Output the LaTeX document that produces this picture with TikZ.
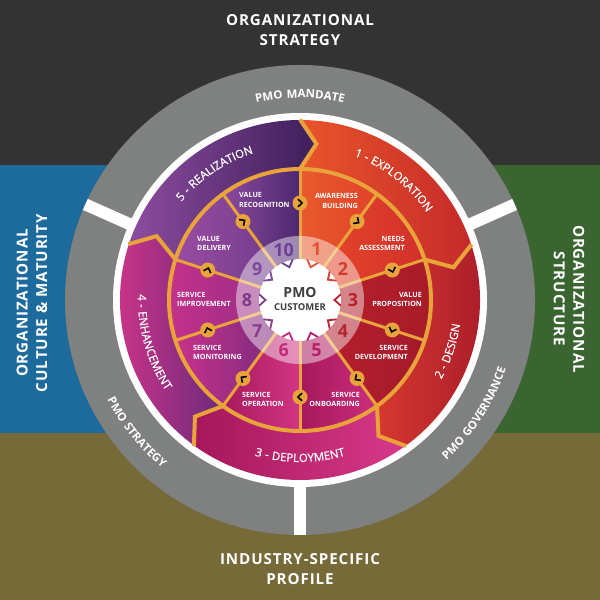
\documentclass[tikz,border=0pt]{standalone}
\usepackage{fontspec}
\setmainfont{Open Sans}
\newfontfamily\titlefam[LetterSpace=6]{Open Sans}
\newfontfamily\phasefam[LetterSpace=5,FakeBold=0.6]{Open Sans}
\newfontfamily\grayfam[LetterSpace=8]{Open Sans}
\usetikzlibrary{decorations.text}
\definecolor{gold}{HTML}{E8A33A}
\definecolor{topbg}{HTML}{333333}
\definecolor{bluebg}{HTML}{1D6A9C}
\definecolor{greenbg}{HTML}{3A6531}
\definecolor{olivebg}{HTML}{756A38}
\definecolor{ringgray}{HTML}{7F8080}
\definecolor{darktext}{HTML}{3D3D3D}
% phases
\definecolor{p1l}{HTML}{E9552A}\definecolor{p1r}{HTML}{C42A2A}
\definecolor{p2l}{HTML}{D6382F}\definecolor{p2r}{HTML}{A61B2A}
\definecolor{p3l}{HTML}{A5175A}\definecolor{p3r}{HTML}{D8398A}
\definecolor{p4l}{HTML}{D5358A}\definecolor{p4r}{HTML}{6C2A7B}
\definecolor{p5l}{HTML}{8D4C9F}\definecolor{p5r}{HTML}{3D1E5A}
% inner segments
\definecolor{s1l}{HTML}{E85A2C}\definecolor{s1r}{HTML}{E2422A}
\definecolor{s2l}{HTML}{E4462A}\definecolor{s2r}{HTML}{D2302B}
\definecolor{s3l}{HTML}{B41F2B}\definecolor{s3r}{HTML}{A81B29}
\definecolor{s4l}{HTML}{B51F2D}\definecolor{s4r}{HTML}{A41A2B}
\definecolor{s5l}{HTML}{A6185A}\definecolor{s5r}{HTML}{CB2E7D}
\definecolor{s6l}{HTML}{A81A5C}\definecolor{s6r}{HTML}{D23584}
\definecolor{s7l}{HTML}{C8318A}\definecolor{s7r}{HTML}{7B2B7E}
\definecolor{s8l}{HTML}{C5318A}\definecolor{s8r}{HTML}{9A2E86}
\definecolor{s9l}{HTML}{9A4CA1}\definecolor{s9r}{HTML}{713C8D}
\definecolor{s10l}{HTML}{8B4A9E}\definecolor{s10r}{HTML}{4D2870}
% numbers
\definecolor{n1}{HTML}{E0542F}\definecolor{n2}{HTML}{D03C2E}
\definecolor{n3}{HTML}{B8222D}\definecolor{n4}{HTML}{B2252F}
\definecolor{n5}{HTML}{B8206A}\definecolor{n6}{HTML}{C42A7A}
\definecolor{n7}{HTML}{8A3A8C}\definecolor{n8}{HTML}{7C3A8E}
\definecolor{n9}{HTML}{7C4899}\definecolor{n10}{HTML}{6E3F98}
\newcommand\phasefont{\phasefam\fontsize{11.5}{13}\selectfont}
\newcommand\grayfont{\grayfam\bfseries\fontsize{11.5}{13}\selectfont}
\newcommand\arctext[5]{\path[decorate, decoration={text along path, text align=center, text color=white, text={|#4|#5}}] (#2:#1) arc[start angle=#2, end angle=#3, radius=#1];}
\begin{document}
\begin{tikzpicture}[x=1bp,y=1bp,
  dotnode/.style={circle, fill=gold, minimum size=15bp, inner sep=0pt},
  smalllabel/.style={font=\bfseries\fontsize{7.2}{9.3}\selectfont, text=white, inner sep=0pt},
  titlelabel/.style={font=\titlefam\bfseries\fontsize{15.2}{19.5}\selectfont, text=white, align=center, inner sep=0pt},
  numlabel/.style={font=\bfseries\fontsize{18}{18}\selectfont, inner sep=0pt},
  goldbound/.style={draw=gold, line width=4bp, line join=miter},
  goldspoke/.style={draw=gold, line width=3bp}]
\useasboundingbox (0,0) rectangle (600,600);
% backgrounds
\fill[topbg] (0,435) rectangle (600,600);
\fill[bluebg] (0,167) rectangle (300,435);
\fill[greenbg] (300,167) rectangle (600,435);
\fill[olivebg] (0,0) rectangle (600,167);
% titles
\node[titlelabel] (ttop) at (300,570) {ORGANIZATIONAL\\STRATEGY};
\node[titlelabel] (tbot) at (300,31) {INDUSTRY-SPECIFIC\\PROFILE};
\node[titlelabel, rotate=90] (tleft) at (32,297) {ORGANIZATIONAL\\CULTURE \& MATURITY};
\node[titlelabel, rotate=-90] (tright) at (569,301) {ORGANIZATIONAL\\STRUCTURE};
\begin{scope}[shift={(300,300)}]
  % gray ring
  \fill[ringgray] (0,0) circle[radius=235];
  \fill[white] (0,0) circle[radius=187];
  \foreach \a in {24,156,270} \draw[white, line width=12bp] (\a:186) -- (\a:235);
  % phases
  \foreach \s/\p in {90/1,18/2,-54/3,-126/4,162/5} {
    \pgfmathsetmacro\e{\s-72}
    \pgfmathsetmacro\sk{\s-6}
    \pgfmathsetmacro\ek{\e-6}
    \shade[left color=p\p l, right color=p\p r] (\s:131) -- (\sk:157) -- (\s:180)
      arc[start angle=\s, end angle=\e, radius=180] -- (\ek:157) -- (\e:131)
      arc[start angle=\e, end angle=\s, radius=131] -- cycle;
  }
  % inner segments
  \foreach \k in {1,...,10} {
    \pgfmathsetmacro\sa{90-36*(\k-1)}
    \pgfmathsetmacro\ea{\sa-36}
    \shade[left color=s\k l, right color=s\k r] (\sa:40) -- (\sa:131)
      arc[start angle=\sa, end angle=\ea, radius=131] -- (\ea:40)
      arc[start angle=\ea, end angle=\sa, radius=40] -- cycle;
  }
  % boundaries
  \foreach \s in {90,18,-54,-126,162} {
    \pgfmathsetmacro\sk{\s-6}
    \draw[goldbound] (\s:131) -- (\sk:157) -- (\s:180.5);
  }
  \foreach \k in {0,...,9} {
    \pgfmathsetmacro\a{90-36*\k}
    \draw[goldspoke] (\a:40) -- (\a:131);
  }
  \draw[gold, line width=4bp] (0,0) circle[radius=131];
  % translucent ring
  \fill[white, fill opacity=0.45, even odd rule] (0,0) circle[radius=64] (0,0) circle[radius=41];
  % numbers
  \foreach \k in {1,...,10} {
    \pgfmathsetmacro\c{72-36*(\k-1)}
    \node[numlabel, text=n\k] (num\k) at (\c:53) {\k};
  }
  % center
  \fill[white] (0,0) circle[radius=41];
  \node[font=\bfseries\fontsize{14}{14}\selectfont, text=darktext, inner sep=0pt] (pmo) at (0,7.5) {PMO};
  \node[font=\bfseries\fontsize{9.5}{10}\selectfont, text=darktext, inner sep=0pt] (cust) at (0,-7) {CUSTOMER};
  % inward chevrons
  \foreach \k in {1,...,10} {
    \pgfmathsetmacro\c{72-36*(\k-1)}
    \pgfmathsetmacro\r{\c+180}
    \begin{scope}[shift={(\c:37.5)}, rotate=\r]
      \draw[n\k, line width=1.8bp, line cap=round, line join=miter] (-3,5.4) -- (3,0) -- (-3,-5.4);
    \end{scope}
  }
  % dots with chevrons
  \foreach \k in {0,...,9} {
    \pgfmathsetmacro\a{90-36*\k}
    \pgfmathsetmacro\r{\a-90}
    \node[dotnode] (dot\k) at (\a:97) {};
    \begin{scope}[shift={(\a:97)}, rotate=\r]
      \draw[black, line width=1.6bp, line join=miter] (-2,3.8) -- (2,0) -- (-2,-3.8);
    \end{scope}
  }
  % arc texts
  \arctext{154}{88}{16}{\phasefont}{1 - EXPLORATION}
  \arctext{154}{160}{88}{\phasefont}{5 - REALIZATION}
  \arctext{162}{-55}{17}{\phasefont}{2 - DESIGN}
  \arctext{162}{-126}{-54}{\phasefont}{3 - DEPLOYMENT}
  \arctext{162}{160}{232}{\phasefont}{4 - ENHANCEMENT}
  \arctext{202}{150}{30}{\grayfont}{PMO MANDATE}
  \arctext{217}{159}{279}{\grayfont}{PMO STRATEGY}
  \arctext{217}{-93}{27}{\grayfont}{PMO GOVERNANCE}
\end{scope}
% inner labels
\node[smalllabel, align=left, anchor=west] (vr) at (239,400) {VALUE\\RECOGNITION};
\node[smalllabel, align=right, anchor=east] (ab) at (358,399) {AWARENESS\\BUILDING};
\node[smalllabel, align=right, anchor=east] (na) at (405,356.5) {NEEDS\\ASSESSMENT};
\node[smalllabel, align=right, anchor=east] (vp) at (422,300.5) {VALUE\\PROPOSITION};
\node[smalllabel, align=right, anchor=east] (sd) at (408,247.5) {SERVICE\\DEVELOPMENT};
\node[smalllabel, align=right, anchor=east] (so) at (360,200.5) {SERVICE\\ONBOARDING};
\node[smalllabel, align=left, anchor=west] (sop) at (242,200.5) {SERVICE\\OPERATION};
\node[smalllabel, align=left, anchor=west] (sm) at (193,247.5) {SERVICE\\MONITORING};
\node[smalllabel, align=left, anchor=west] (si) at (177,300.5) {SERVICE\\IMPROVEMENT};
\node[smalllabel, align=left, anchor=west] (vd) at (197,356.5) {VALUE\\DELIVERY};
\end{tikzpicture}
\end{document}
